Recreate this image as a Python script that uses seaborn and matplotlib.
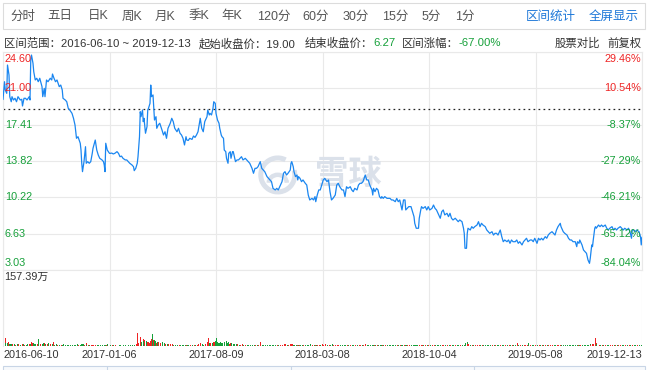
import matplotlib
matplotlib.use("Agg")
import matplotlib.pyplot as plt
from matplotlib.patches import Rectangle, Arc
from matplotlib.lines import Line2D
import seaborn as sns
import numpy as np
import pandas as pd

sns.set_style("white")
plt.rcParams["font.family"] = ["Liberation Sans", "Noto Sans CJK SC"]

# Trading-day index (0 = 2016-06-10, 852 = 2019-12-13), close price, volume (万)
day = [
    0, 2, 3, 5, 6, 8, 9, 11, 12, 14,
    16, 18, 20, 23, 25, 26, 28, 30, 32, 35,
    36, 37, 38, 40, 41, 43, 45, 47, 49, 52,
    53, 55, 56, 58, 60, 63, 65, 66, 68, 70,
    72, 75, 77, 79, 80, 83, 85, 87, 89, 92,
    94, 96, 98, 100, 103, 104, 105, 106, 108, 110,
    111, 113, 115, 117, 119, 120, 123, 125, 127, 129,
    132, 134, 135, 136, 137, 139, 142, 143, 145, 147,
    149, 152, 154, 156, 158, 160, 163, 165, 167, 169,
    172, 174, 175, 177, 179, 180, 182, 183, 184, 186,
    187, 188, 190, 192, 193, 194, 196, 197, 198, 200,
    201, 202, 204, 205, 207, 209, 212, 214, 216, 218,
    220, 223, 225, 227, 229, 232, 234, 236, 238, 240,
    242, 244, 245, 247, 249, 252, 254, 256, 258, 260,
    263, 265, 267, 269, 272, 273, 275, 276, 278, 280,
    281, 283, 284, 285, 286, 288, 289, 291, 292, 294,
    295, 297, 298, 300, 301, 303, 304, 306, 307, 308,
    310, 312, 314, 316, 318, 320, 323, 325, 327, 329,
    332, 334, 336, 338, 340, 343, 345, 347, 349, 352,
    354, 356, 358, 360, 363, 365, 367, 369, 372, 374,
    376, 378, 380, 383, 384, 385, 387, 388, 390, 392,
    393, 394, 396, 398, 400, 403, 405, 407, 409, 412,
    414, 416, 417, 419, 421, 423, 425, 427, 429, 432,
    434, 436, 438, 440, 443, 445, 447, 449, 452, 454,
    456, 458, 460, 463, 465, 467, 469, 472, 474, 476,
    478, 480, 483, 485, 487, 489, 492, 493, 494, 496,
    498, 500, 502, 504, 505, 507, 509, 512, 514, 516,
    518, 520, 523, 525, 527, 529, 531, 532, 534, 536,
    537, 539, 541, 544, 546, 548, 549, 551, 552, 554,
    555, 557, 558, 560, 563, 565, 567, 569, 572, 574,
    576, 578, 580, 583, 585, 587, 589, 592, 594, 596,
    598, 600, 603, 605, 607, 609, 612, 614, 615, 616,
    618, 619, 620, 623, 625, 627, 629, 632, 634, 636,
    638, 640, 643, 645, 647, 649, 652, 654, 656, 658,
    660, 663, 665, 667, 669, 672, 674, 676, 678, 680,
    683, 685, 687, 689, 692, 694, 696, 698, 700, 703,
    705, 707, 709, 712, 714, 716, 718, 720, 723, 725,
    727, 729, 732, 734, 736, 738, 740, 743, 744, 746,
    747, 749, 752, 754, 756, 758, 760, 763, 765, 766,
    768, 769, 772, 774, 776, 778, 780, 782, 783, 785,
    786, 787, 789, 790, 791, 794, 796, 798, 800, 803,
    805, 807, 809, 812, 814, 816, 818, 820, 823, 825,
    827, 829, 832, 834, 836, 838, 839, 841, 843, 845,
    848, 850, 851, 852,
]

close = [
    19.90, 21.66, 20.84, 20.51, 23.31, 22.32, 20.18, 19.68, 20.18, 19.85,
    20.02, 19.68, 20.18, 19.85, 19.92, 19.26, 20.02, 20.02, 19.85, 20.18,
    19.85, 23.81, 24.30, 23.48, 22.65, 21.83, 22.00, 21.66, 22.00, 21.17,
    20.18, 21.00, 20.18, 21.83, 21.66, 22.00, 21.83, 22.42, 22.00, 21.66,
    21.83, 21.17, 21.33, 20.84, 20.02, 19.85, 19.68, 19.03, 18.86, 18.53,
    18.04, 17.38, 16.06, 16.22, 15.57, 14.90, 13.59, 12.76, 13.75, 15.23,
    13.59, 13.75, 13.59, 13.75, 14.57, 15.07, 15.89, 14.90, 14.41, 14.08,
    13.92, 13.75, 13.42, 12.76, 15.57, 14.90, 14.57, 14.57, 14.60, 14.51,
    14.57, 14.74, 14.57, 14.24, 14.30, 14.08, 13.92, 13.92, 13.75, 13.59,
    13.42, 13.25, 12.86, 13.09, 13.59, 14.24, 16.22, 18.69, 18.20, 18.86,
    17.71, 18.04, 16.56, 17.21, 18.86, 19.03, 19.52, 21.33, 20.18, 20.35,
    19.03, 17.87, 18.20, 17.05, 17.38, 17.55, 16.88, 16.39, 16.71, 16.06,
    17.05, 17.55, 18.04, 17.71, 17.05, 16.71, 17.05, 16.56, 16.39, 16.06,
    15.40, 16.22, 15.89, 15.85, 16.06, 15.95, 16.29, 16.15, 16.39, 16.71,
    18.04, 17.05, 16.71, 17.71, 18.20, 18.86, 18.37, 18.53, 18.37, 19.03,
    19.68, 19.52, 18.53, 18.20, 17.87, 17.55, 17.05, 16.39, 16.22, 16.06,
    14.90, 14.74, 14.08, 13.59, 14.57, 14.74, 14.08, 14.74, 14.74, 14.41,
    13.75, 13.92, 13.92, 14.08, 14.24, 13.92, 14.08, 13.92, 13.75, 13.59,
    13.09, 12.60, 13.09, 13.09, 13.25, 13.75, 13.09, 12.92, 12.76, 12.27,
    12.10, 11.94, 11.77, 11.11, 10.95, 11.11, 10.95, 11.27, 11.77, 12.60,
    12.76, 12.43, 12.60, 12.92, 13.59, 13.75, 13.25, 12.76, 12.27, 12.43,
    11.94, 12.27, 12.10, 11.77, 11.94, 11.61, 11.44, 10.45, 9.96, 10.12,
    9.96, 10.29, 9.79, 10.45, 10.95, 10.95, 11.44, 11.94, 12.10, 11.77,
    11.94, 10.78, 9.96, 10.12, 10.45, 11.44, 11.61, 11.27, 10.95, 10.95,
    10.29, 11.27, 11.11, 11.27, 10.95, 10.78, 11.11, 10.95, 11.44, 11.61,
    11.61, 11.77, 12.43, 11.94, 11.94, 11.44, 10.95, 10.45, 11.11, 10.78,
    11.11, 10.95, 10.29, 10.12, 10.29, 10.12, 10.29, 10.12, 10.12, 10.12,
    9.96, 9.96, 9.79, 10.12, 9.79, 9.96, 9.30, 8.97, 9.96, 9.96,
    8.97, 9.13, 9.30, 9.30, 8.80, 8.31, 7.65, 7.16, 7.16, 7.16,
    8.15, 8.97, 9.30, 9.13, 9.30, 8.97, 9.30, 8.97, 9.13, 9.46,
    9.13, 8.97, 8.64, 8.15, 8.80, 8.97, 8.48, 8.64, 8.31, 8.64,
    8.15, 7.98, 8.15, 7.98, 7.81, 7.98, 7.81, 7.16, 6.66, 5.18,
    5.18, 6.66, 7.16, 6.99, 7.32, 7.16, 7.32, 7.48, 7.81, 7.32,
    7.65, 7.48, 7.32, 6.99, 6.82, 6.66, 6.82, 6.49, 6.66, 6.66,
    6.49, 6.99, 6.33, 5.83, 6.00, 5.83, 6.00, 5.67, 6.00, 5.83,
    5.83, 6.00, 5.67, 5.83, 5.51, 5.83, 6.00, 6.17, 5.83, 6.00,
    6.00, 5.83, 6.17, 5.67, 6.17, 6.00, 6.17, 6.00, 6.33, 6.17,
    6.49, 6.66, 6.82, 6.66, 6.49, 6.99, 7.32, 7.65, 7.32, 6.99,
    6.82, 6.66, 6.49, 6.17, 6.00, 6.00, 5.83, 5.83, 5.34, 5.83,
    5.67, 6.00, 5.51, 5.01, 4.84, 4.68, 4.02, 3.69, 4.18, 5.51,
    5.34, 6.00, 7.16, 7.32, 7.16, 7.48, 7.32, 7.48, 7.32, 7.48,
    7.16, 6.99, 7.16, 7.32, 6.99, 7.16, 6.99, 7.16, 7.32, 7.16,
    6.99, 7.16, 6.99, 7.16, 6.82, 6.17, 6.99, 6.99, 6.82, 6.99,
    6.82, 6.33, 5.51, 6.27,
]

volume = [
    157.39, 17.0, 6.0, 5.5, 8.0, 5.0, 4.0, 5.0, 3.5, 4.0,
    3.0, 3.5, 4.0, 3.0, 3.5, 4.0, 3.0, 3.0, 3.5, 4.0,
    3.5, 9.0, 7.0, 6.0, 5.0, 4.5, 5.0, 15.0, 5.0, 4.5,
    6.0, 7.0, 5.0, 4.0, 6.5, 4.0, 3.5, 8.0, 3.0, 3.5,
    3.0, 3.0, 2.5, 2.5, 4.0, 3.0, 2.5, 3.0, 2.5, 2.5,
    2.5, 3.0, 3.5, 2.5, 3.0, 3.5, 4.0, 3.5, 2.5, 5.5,
    2.5, 2.0, 2.0, 2.5, 2.0, 2.5, 2.0, 2.0, 1.5, 1.5,
    1.5, 1.5, 2.0, 2.5, 3.0, 5.0, 1.5, 1.5, 1.5, 1.5,
    1.5, 1.0, 1.5, 1.5, 1.0, 1.5, 1.5, 1.0, 1.5, 1.5,
    2.0, 2.0, 3.0, 4.0, 26.6, 6.0, 18.0, 12.0, 9.0, 14.0,
    10.0, 12.0, 11.0, 8.0, 9.0, 7.0, 10.0, 14.0, 24.5, 12.0,
    12.0, 10.0, 7.0, 8.0, 9.0, 6.0, 8.0, 6.0, 5.0, 4.5,
    4.0, 3.5, 3.5, 3.0, 3.0, 2.5, 3.0, 2.5, 2.5, 3.0,
    3.0, 2.5, 2.5, 2.0, 2.5, 2.5, 2.0, 2.5, 3.0, 3.5,
    6.0, 3.5, 3.0, 4.5, 8.0, 17.0, 7.0, 6.0, 6.5, 8.0,
    8.0, 10.0, 16.0, 9.0, 7.0, 6.0, 9.0, 7.0, 6.0, 8.0,
    7.0, 10.0, 6.0, 8.0, 5.0, 5.5, 6.0, 4.0, 5.0, 4.0,
    3.5, 4.0, 3.0, 3.0, 3.5, 2.5, 3.0, 2.5, 2.5, 3.0,
    2.5, 3.0, 2.5, 2.5, 3.0, 9.0, 2.5, 3.0, 2.5, 2.5,
    2.5, 2.0, 2.5, 3.0, 2.5, 2.0, 2.0, 2.5, 3.0, 4.0,
    3.5, 3.0, 3.0, 3.5, 5.0, 4.0, 3.0, 2.5, 2.5, 2.5,
    2.0, 2.0, 2.5, 2.0, 2.0, 2.5, 2.0, 3.0, 3.5, 2.5,
    2.0, 2.5, 2.5, 2.5, 3.0, 3.0, 3.5, 3.0, 3.5, 2.5,
    2.5, 3.0, 3.5, 2.5, 2.5, 3.0, 2.5, 2.5, 2.0, 2.0,
    2.5, 3.0, 2.0, 2.0, 2.0, 2.0, 2.0, 2.0, 2.5, 2.0,
    2.0, 2.0, 3.5, 2.5, 2.0, 2.0, 2.0, 2.5, 2.0, 2.0,
    1.5, 1.5, 2.0, 1.5, 1.5, 1.5, 1.5, 1.5, 1.5, 1.5,
    1.5, 1.5, 1.5, 1.5, 1.5, 1.5, 2.0, 2.0, 1.5, 1.5,
    2.0, 1.5, 1.5, 1.5, 1.5, 2.0, 2.5, 2.5, 2.0, 1.5,
    2.0, 2.0, 1.5, 1.5, 1.5, 1.5, 1.5, 1.5, 1.5, 1.5,
    1.5, 1.5, 1.5, 2.0, 1.5, 1.5, 1.5, 1.5, 1.5, 1.5,
    1.5, 1.5, 1.5, 1.5, 1.5, 1.5, 1.5, 2.0, 3.0, 6.0,
    9.0, 5.0, 4.0, 3.0, 2.5, 2.0, 2.0, 2.0, 2.5, 2.0,
    2.0, 1.5, 1.5, 1.5, 1.5, 1.5, 1.5, 1.5, 1.5, 1.5,
    1.5, 1.5, 2.0, 1.5, 1.5, 1.5, 1.5, 1.5, 1.5, 1.5,
    1.5, 7.0, 1.5, 1.5, 1.5, 1.5, 1.5, 1.5, 6.0, 1.5,
    1.5, 1.5, 1.5, 1.5, 1.5, 1.5, 1.5, 1.5, 1.5, 1.5,
    1.5, 1.5, 1.5, 1.5, 1.5, 2.0, 2.5, 3.0, 2.0, 1.5,
    1.5, 1.5, 1.5, 1.5, 1.5, 1.5, 1.5, 1.5, 2.0, 1.5,
    1.5, 1.5, 1.5, 2.0, 2.0, 2.5, 3.0, 3.5, 3.0, 4.0,
    3.5, 5.0, 17.0, 6.0, 4.0, 3.0, 2.5, 2.0, 2.0, 2.0,
    2.0, 2.0, 1.5, 1.5, 2.0, 1.5, 1.5, 1.5, 1.5, 1.5,
    1.5, 1.5, 1.5, 1.5, 1.5, 2.0, 1.5, 1.5, 1.5, 1.5,
    1.5, 2.0, 2.5, 2.0,
]

start_close = 19.00
end_close = 6.27
vol_max = 157.39
price_ticks = [24.60, 21.00, 17.41, 13.82, 10.22, 6.63, 3.03]
pct_labels = ["29.46%", "10.54%", "-8.37%", "-27.29%", "-46.21%", "-65.12%", "-84.04%"]
date_days = [0, 142, 284, 426, 568, 710, 852]
date_labels = ["2016-06-10", "2017-01-06", "2017-08-09", "2018-03-08",
               "2018-10-04", "2019-05-08", "2019-12-13"]
tabs = ["分时", "五日", "日K", "周K", "月K", "季K", "年K",
        "120分", "60分", "30分", "15分", "5分", "1分"]
links = ["区间统计", "全屏显示"]

assert len(day) == len(close) == len(volume)

RED = "#ee2424"
GREEN = "#16a03a"
BLUE = "#1a86f0"
GRID = "#e9e9e9"
DARK = "#333333"

df = pd.DataFrame({"day": day, "close": close, "volume": volume})
df["up"] = np.diff(df["close"], prepend=df["close"].iloc[0]) > 0

W, H = 648, 370
fig = plt.figure(figsize=(W / 100, H / 100), dpi=100)

# overlay for header texts and frames
top = fig.add_axes([0, 0, 1, 1])
top.set_xlim(0, W)
top.set_ylim(H, 0)
top.axis("off")

top.add_patch(Rectangle((3, 3), 642, 26, fill=False, edgecolor="#dcdcdc", lw=0.8))
tab_x = [23, 60, 98, 132, 165, 199, 232, 274, 316, 356, 395, 431, 465]
for lbl, xc in zip(tabs, tab_x):
    top.text(xc, 16.5, lbl, ha="center", va="center", fontsize=9, color="#555555")
for lbl, xc in zip(links, [551, 614]):
    top.text(xc, 16.5, lbl, ha="center", va="center", fontsize=9, color="#1e78d8")

row_y = 43.5
fs2 = 8.2
top.text(4, row_y, f"区间范围：{date_labels[0]} ~ {date_labels[-1]}",
         ha="left", va="center", fontsize=fs2, color=DARK)
top.text(199, row_y, f"起始收盘价：{start_close:.2f}", ha="left", va="center",
         fontsize=fs2, color=DARK)
t3 = top.text(305, row_y, "结束收盘价：", ha="left", va="center", fontsize=fs2, color=DARK)
top.annotate(f"{end_close:.2f}", xy=(1, 0.5), xycoords=t3, ha="left", va="center",
             fontsize=fs2, color=GREEN)
t4 = top.text(402, row_y, "区间涨幅：", ha="left", va="center", fontsize=fs2, color=DARK)
top.annotate(f"{(end_close / start_close - 1) * 100:.2f}%", xy=(1, 0.5), xycoords=t4,
             ha="left", va="center", fontsize=fs2, color=GREEN)
top.text(600, row_y, "股票对比", ha="right", va="center", fontsize=fs2, color=DARK)
top.text(642, row_y, "前复权", ha="right", va="center", fontsize=fs2, color=DARK)

# navigator strip at the very bottom
top.add_patch(Rectangle((3, 366), 642, 10, facecolor="#f7f9fc", edgecolor="#c8d5e6", lw=0.8))
for xv in [107, 291, 474]:
    top.add_line(Line2D([xv, xv], [366, 370], color="#c8d5e6", lw=0.8))

# price panel
ax = fig.add_axes([3 / W, 1 - 270 / H, 639 / W, 218 / H])
ax.set_zorder(2)
ax.patch.set_alpha(0)
sns.lineplot(data=df, x="day", y="close", ax=ax, color=BLUE, linewidth=0.9,
             estimator=None, zorder=3)
ax.axhline(start_close, color="#222222", lw=0.9, ls=(0, (1.4, 2.6)), zorder=2)
ax.set_xlim(0, 852)
ax.set_ylim(price_ticks[-1], price_ticks[0])
ax.set_yticks(price_ticks)
ax.set_xticks(date_days)
ax.tick_params(length=0, labelleft=False, labelbottom=False)
ax.grid(True, color=GRID, lw=0.8)
ax.set_xlabel("")
ax.set_ylabel("")
for s in ax.spines.values():
    s.set_color(GRID)
    s.set_linewidth(0.8)

n = len(price_ticks)
for i, (p, pl) in enumerate(zip(price_ticks, pct_labels)):
    col = RED if p > start_close else GREEN
    va = "top" if i == 0 else ("bottom" if i == n - 1 else "center")
    off = -1.5 if i == 0 else (1.5 if i == n - 1 else 0)
    yy = p + off * (price_ticks[0] - price_ticks[-1]) / 218
    ax.text(0.003, yy, f"{p:.2f}", transform=ax.get_yaxis_transform(),
            ha="left", va=va, fontsize=7.8, color=col, zorder=4)
    ax.text(0.998, yy, pl, transform=ax.get_yaxis_transform(),
            ha="right", va=va, fontsize=7.8, color=col, zorder=4)

# watermark
wm = "#dbe1ea"
ax.text(0.54, 0.436, "雪球", transform=ax.transAxes, ha="center", va="center",
        fontsize=24, color=wm, family="Noto Sans CJK SC", fontweight="bold", zorder=1)
ax.add_patch(Arc((0.43, 0.436), 34 / 639, 34 / 218, theta1=80, theta2=400,
                 transform=ax.transAxes, color=wm, lw=3.6, zorder=1))
ax.add_patch(Arc((0.43, 0.40), 18 / 639, 16 / 218, theta1=0, theta2=180,
                 transform=ax.transAxes, color=wm, lw=3.2, zorder=1))

# volume panel
axv = fig.add_axes([3 / W, 1 - 346 / H, 639 / W, 76 / H])
colors = [RED if u else GREEN for u in df["up"]]
axv.bar(df["day"], df["volume"], width=1.4, align="edge", color=colors, linewidth=0)
axv.set_xlim(0, 852)
axv.set_ylim(0, vol_max)
axv.set_yticks([])
axv.set_xticks(date_days)
axv.set_xticklabels(date_labels, fontsize=7.8, color=DARK)
axv.tick_params(axis="x", length=0, pad=3)
labels = axv.get_xticklabels()
labels[0].set_ha("left")
labels[-1].set_ha("right")
axv.grid(True, axis="x", color=GRID, lw=0.8)
for k, s in axv.spines.items():
    s.set_visible(k == "left")
    s.set_color(GRID)
    s.set_linewidth(0.8)
axv.text(0.002, 0.97, f"{vol_max:.2f}万", transform=axv.transAxes, ha="left", va="top",
         fontsize=7.8, color=DARK)

fig.savefig("out.png", dpi=100)
